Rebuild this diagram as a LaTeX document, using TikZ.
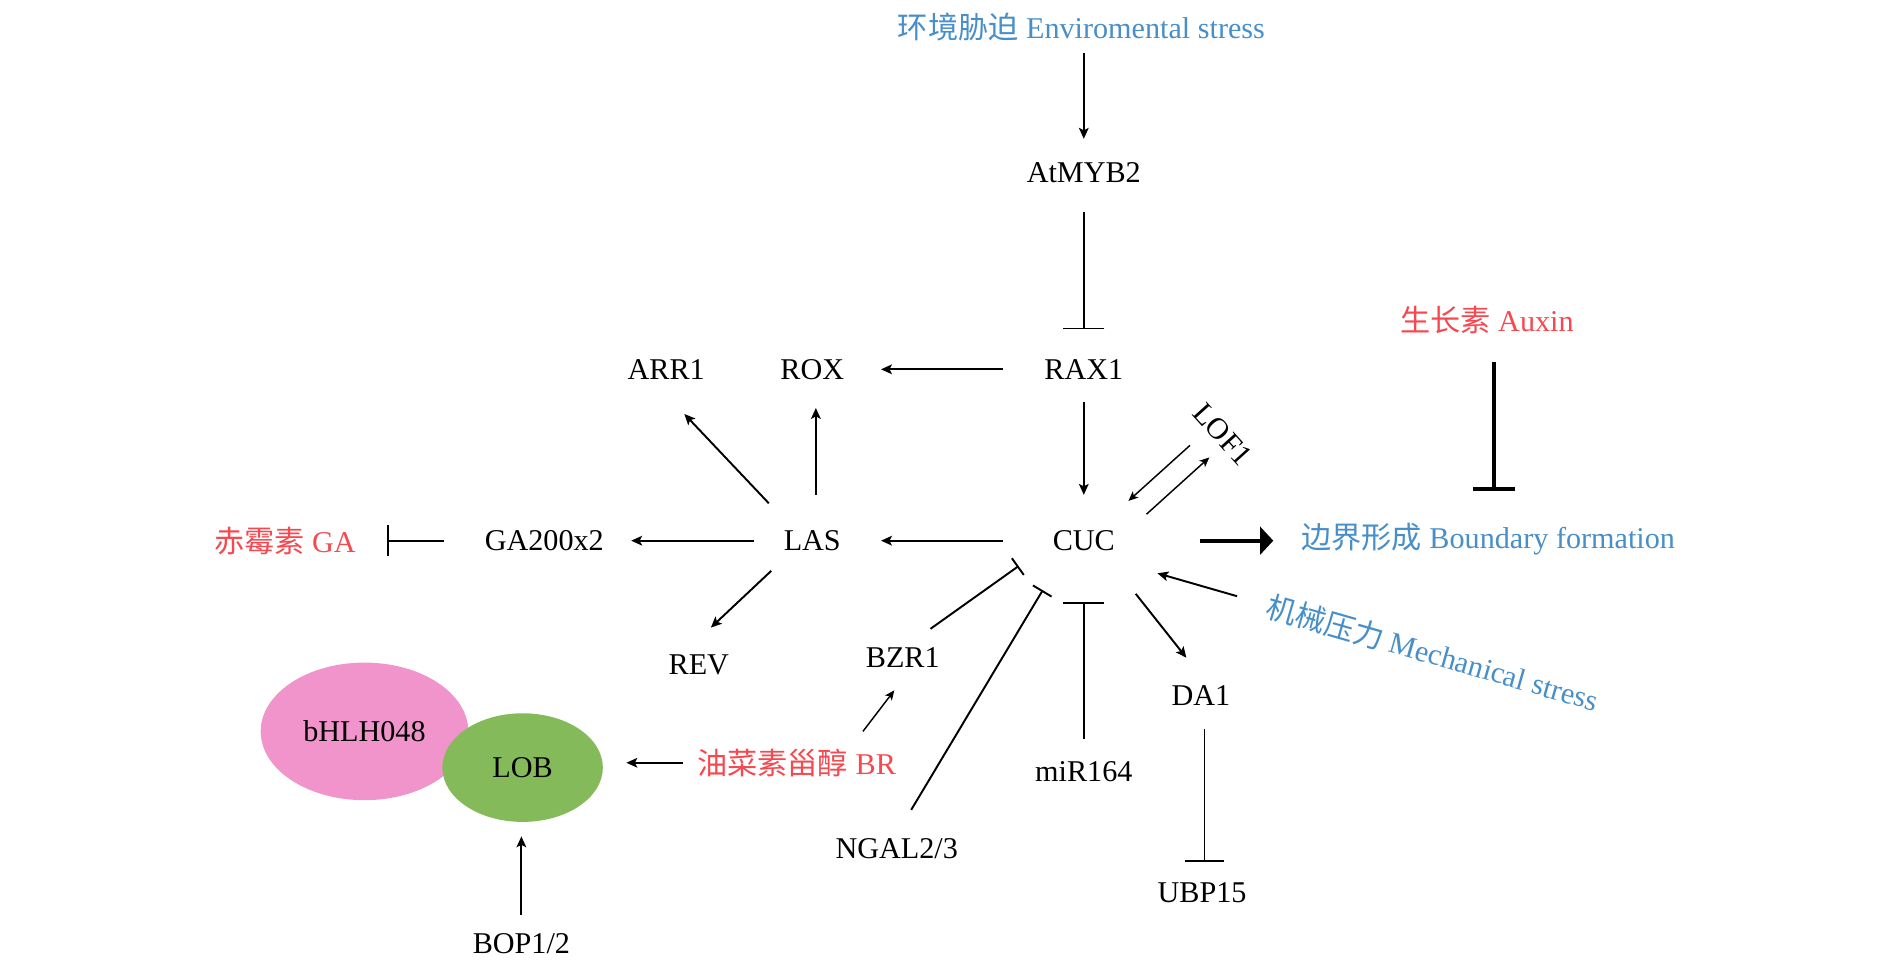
\documentclass[tikz,border=0pt]{standalone}
\usepackage{fontspec}
\setmainfont{Liberation Serif}
\newfontfamily\cjk{Noto Sans CJK SC}
\usetikzlibrary{arrows.meta,shapes.geometric}
\definecolor{myblue}{RGB}{72,142,200}
\definecolor{myred}{RGB}{246,72,78}
\definecolor{pinkc}{RGB}{242,148,204}
\definecolor{greenc}{RGB}{132,186,90}
\begin{document}
\begin{tikzpicture}[x=1pt,y=-1pt,
  txt/.style={font=\fontsize{25}{30}\selectfont, inner sep=0pt},
  blu/.style={txt, text=myblue},
  rd/.style={txt, text=myred},
  act/.style={line width=1.6pt, -{Stealth[length=9pt,width=8pt,inset=2pt]}},
  actthin/.style={line width=1.2pt, -{Stealth[length=8pt,width=7pt,inset=2pt]}},
  inh/.style={line width=1.6pt, -{Bar[width=#1]}},
  bigact/.style={line width=3.3pt, -{Triangle[length=11pt,width=23pt]}},
  biginh/.style={line width=3.3pt, -{Bar[width=35pt]}},
  blob/.style={ellipse, txt, draw=none}
]
\useasboundingbox (0,0) rectangle (1566,800.4);
% ellipses
\node[blob, fill=pinkc, minimum width=172pt, minimum height=114pt] (bHLH) at (302,606) {bHLH048};
\node[blob, fill=greenc, minimum width=133pt, minimum height=90pt] (LOB) at (433,636) {LOB};
% nodes
\node[blu] (Env) at (896,22) {{\cjk 环境胁迫} Enviromental stress};
\node[txt] (AtMYB2) at (898,143) {AtMYB2};
\node[txt] (RAX1) at (898,306) {RAX1};
\node[txt] (ROX) at (673,306) {ROX};
\node[txt] (ARR1) at (552,306) {ARR1};
\node[txt] (CUC) at (898,448) {CUC};
\node[txt] (LAS) at (673,448) {LAS};
\node[txt] (GA200) at (451,448) {GA200x2};
\node[rd] (GA) at (236,448) {{\cjk 赤霉素} GA};
\node[txt] (REV) at (579,551) {REV};
\node[txt] (BZR1) at (748,545) {BZR1};
\node[txt] (DA1) at (995,576) {DA1};
\node[txt] (miR) at (898,639) {miR164};
\node[txt] (UBP) at (996,740) {UBP15};
\node[txt] (NGAL) at (743,703) {NGAL2/3};
\node[txt] (BOP) at (432,782) {BOP1/2};
\node[txt, rotate=-48] (LOF1) at (1013,360) {LOF1};
\node[rd] (Auxin) at (1232,265) {{\cjk 生长素} Auxin};
\node[blu] (Bound) at (1233,447) {{\cjk 边界形成} Boundary formation};
\node[blu, rotate=-16] (Mech) at (1187,541) {{\cjk 机械压力} Mechanical stress};
\node[rd] (BR) at (660,632) {{\cjk 油菜素甾醇} BR};
% connectors
\draw[act] ([shift={(2,22)}]Env.center) -- ([shift={(0,-28)}]AtMYB2.center);
\draw[inh=34pt] ([shift={(0,33)}]AtMYB2.center) -- ([shift={(0,-33)}]RAX1.center);
\draw[act] ([shift={(-67,0)}]RAX1.center) -- ([shift={(57,0)}]ROX.center);
\draw[act] ([shift={(0,27)}]RAX1.center) -- ([shift={(0,-38)}]CUC.center);
\draw[act] ([shift={(-67,0)}]CUC.center) -- ([shift={(57,0)}]LAS.center);
\draw[act] ([shift={(-48,0)}]LAS.center) -- ([shift={(72,0)}]GA200.center);
\draw[inh=26pt] ([shift={(-83,0)}]GA200.center) -- ([shift={(85,0)}]GA.center);
\draw[act] ([shift={(-36,-31)}]LAS.center) -- ([shift={(15,37)}]ARR1.center);
\draw[act] ([shift={(3,-38)}]LAS.center) -- ([shift={(3,32)}]ROX.center);
\draw[act] ([shift={(-34,25)}]LAS.center) -- ([shift={(10,-31)}]REV.center);
\draw[actthin] ([shift={(-27,9)}]LOF1.center) -- ([shift={(37,-33)}]CUC.center);
\draw[actthin] ([shift={(52,-22)}]CUC.center) -- ([shift={(-11,19)}]LOF1.center);
\draw[inh=17pt] ([shift={(23,-24)}]BZR1.center) -- ([shift={(-54,21)}]CUC.center);
\draw[inh=18pt] ([shift={(12,-32)}]NGAL.center) -- ([shift={(-34,41)}]CUC.center);
\draw[inh=34pt] ([shift={(0,-27)}]miR.center) -- ([shift={(0,51)}]CUC.center);
\draw[act] ([shift={(43,44)}]CUC.center) -- ([shift={(-12,-31)}]DA1.center);
\draw[inh=33pt] ([shift={(3,28)}]DA1.center) -- ([shift={(2,-26)}]UBP.center);
\draw[bigact] ([shift={(96,0)}]CUC.center) -- ([shift={(-178,1)}]Bound.center);
\draw[biginh] ([shift={(6,35)}]Auxin.center) -- ([shift={(5,-40)}]Bound.center);
\draw[act] ([shift={(-162,-47)}]Mech.center) -- ([shift={(61,27)}]CUC.center);
\draw[act] ([shift={(-94,0)}]BR.center) -- ([shift={(86,-4)}]LOB.center);
\draw[actthin] ([shift={(55,-26)}]BR.center) -- ([shift={(-7,27)}]BZR1.center);
\draw[act] ([shift={(0,-24)}]BOP.center) -- ([shift={(-1,57)}]LOB.center);
\end{tikzpicture}
\end{document}
